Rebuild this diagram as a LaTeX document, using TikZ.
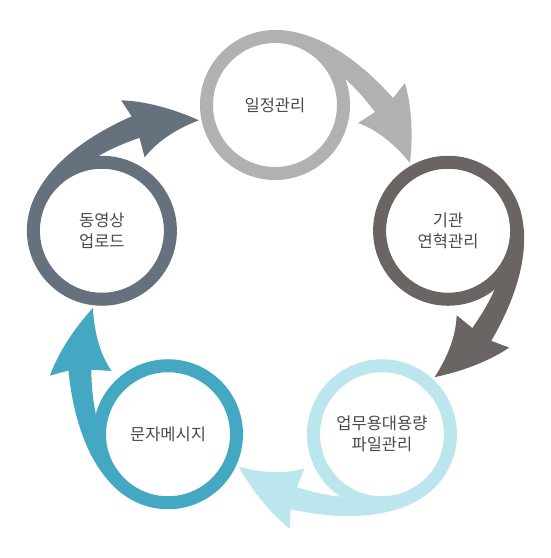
\documentclass[tikz,border=0pt]{standalone}
\usepackage{fontspec}
\setmainfont{Noto Sans CJK KR}
\definecolor{grayring}{HTML}{B1B1B1}
\definecolor{darkring}{HTML}{6A6463}
\definecolor{paleblue}{HTML}{BCE6EE}
\definecolor{tealring}{HTML}{45A8C2}
\definecolor{slatering}{HTML}{66717E}
\definecolor{labeltext}{HTML}{4A4A4A}
\begin{document}
\begin{tikzpicture}[x=1pt,y=1pt]
  \useasboundingbox (-275,287) rectangle (276,-271);
  % curved arrows, one per circle, turned about the middle
  \foreach \k/\col in {0/grayring,1/darkring,2/paleblue,3/tealring,4/slatering} {
    \fill[\col, rotate=-72*\k] (0,257) .. controls (50,257) and (95,215) .. (118,189)
      -- (130,204) .. controls (137,180) and (138,150) .. (135,124)
      .. controls (118,145) and (100,158) .. (83,164)
      -- (100,175) .. controls (90,188) and (80,200) .. (68,210)
      arc[start angle=22.4, end angle=90, radius=73.5] -- cycle;
  }
  \begin{scope}[every node/.style={circle, draw, line width=13pt, fill=white,
      minimum size=137pt, inner sep=0pt, text=labeltext, align=center,
      font=\fontsize{16.5}{21}\selectfont}]
    \node[draw=grayring] (a) at (90:182) {일정관리};
    \node[draw=darkring] (b) at (18:182) {기관\\연혁관리};
    \node[draw=paleblue] (c) at (-54:182) {업무용대용량\\파일관리};
    \node[draw=tealring] (d) at (-126:182) {문자메시지};
    \node[draw=slatering] (e) at (162:182) {동영상\\업로드};
  \end{scope}
\end{tikzpicture}
\end{document}
